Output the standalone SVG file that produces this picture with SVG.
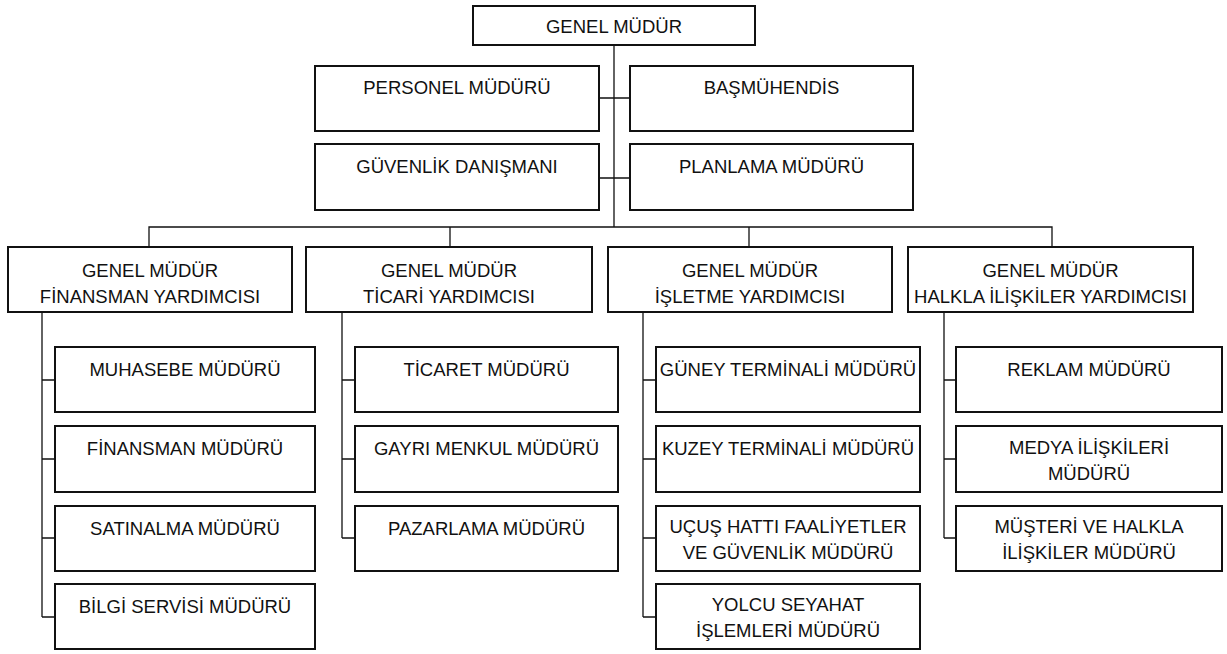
<svg xmlns="http://www.w3.org/2000/svg" width="1227" height="654" viewBox="0 0 1227 654">
<style>
.box{fill:#fff;stroke:#111;stroke-width:2}
.ln{stroke:#111;stroke-width:1.3;fill:none}
text{font-family:"Liberation Sans",Arial,sans-serif;font-size:18.5px;fill:#111;text-anchor:middle}
</style>
<rect width="1227" height="654" fill="#fff"/>
<g id="connectors" class="ln">
<path d="M614 45V227M599 98H630M599 178H630"/>
<path d="M149 247V227H1052V247M450 227V247M749 227V247"/>
<path d="M42 312V617M42 380H55M42 459H55M42 538H55M42 617H55"/>
<path d="M342 312V538M342 380H355M342 459H355M342 538H355"/>
<path d="M643 312V617M643 380H656M643 459H656M643 538H656M643 617H656"/>
<path d="M944 312V538M944 380H956M944 459H956M944 538H956"/>
</g>
<g id="genel-mudur"><rect class="box" x="473" y="6" width="282" height="39"/><text x="614" y="33">GENEL MÜDÜR</text></g>
<g id="personel"><rect class="box" x="315" y="66" width="284" height="65"/><text x="457" y="94">PERSONEL MÜDÜRÜ</text></g>
<g id="basmuhendis"><rect class="box" x="630" y="66" width="283" height="65"/><text x="771.5" y="94">BAŞMÜHENDİS</text></g>
<g id="guvenlik"><rect class="box" x="315" y="144" width="284" height="66"/><text x="457" y="173">GÜVENLİK DANIŞMANI</text></g>
<g id="planlama"><rect class="box" x="630" y="144" width="283" height="66"/><text x="771.5" y="173">PLANLAMA MÜDÜRÜ</text></g>

<g id="finansman-yrd"><rect class="box" x="8" y="247" width="284" height="65"/><text x="150" y="277">GENEL MÜDÜR</text><text x="150" y="303">FİNANSMAN YARDIMCISI</text></g>
<g id="ticari-yrd"><rect class="box" x="306" y="247" width="286" height="65"/><text x="449" y="277">GENEL MÜDÜR</text><text x="449" y="303">TİCARİ YARDIMCISI</text></g>
<g id="isletme-yrd"><rect class="box" x="608" y="247" width="284" height="65"/><text x="750" y="277">GENEL MÜDÜR</text><text x="750" y="303">İŞLETME YARDIMCISI</text></g>
<g id="halkla-yrd"><rect class="box" x="908" y="247" width="285" height="65"/><text x="1050.5" y="277">GENEL MÜDÜR</text><text x="1050.5" y="303">HALKLA İLİŞKİLER YARDIMCISI</text></g>

<g id="muhasebe"><rect class="box" x="55" y="347" width="260" height="65"/><text x="185" y="376">MUHASEBE MÜDÜRÜ</text></g>
<g id="finansman"><rect class="box" x="55" y="426" width="260" height="66"/><text x="185" y="455">FİNANSMAN MÜDÜRÜ</text></g>
<g id="satinalma"><rect class="box" x="55" y="506" width="260" height="65"/><text x="185" y="535">SATINALMA MÜDÜRÜ</text></g>
<g id="bilgi"><rect class="box" x="55" y="584" width="260" height="65"/><text x="185" y="613">BİLGİ SERVİSİ MÜDÜRÜ</text></g>

<g id="ticaret"><rect class="box" x="355" y="347" width="263" height="65"/><text x="486.5" y="376">TİCARET MÜDÜRÜ</text></g>
<g id="gayrimenkul"><rect class="box" x="355" y="426" width="263" height="66"/><text x="486.5" y="455">GAYRI MENKUL MÜDÜRÜ</text></g>
<g id="pazarlama"><rect class="box" x="355" y="506" width="263" height="65"/><text x="486.5" y="535">PAZARLAMA MÜDÜRÜ</text></g>

<g id="guney"><rect class="box" x="656" y="347" width="264" height="65"/><text x="788" y="376">GÜNEY TERMİNALİ MÜDÜRÜ</text></g>
<g id="kuzey"><rect class="box" x="656" y="426" width="264" height="66"/><text x="788" y="455">KUZEY TERMİNALİ MÜDÜRÜ</text></g>
<g id="ucus"><rect class="box" x="656" y="506" width="264" height="65"/><text x="788" y="533">UÇUŞ HATTI FAALİYETLER</text><text x="788" y="559">VE GÜVENLİK MÜDÜRÜ</text></g>
<g id="yolcu"><rect class="box" x="656" y="584" width="264" height="65"/><text x="788" y="611">YOLCU SEYAHAT</text><text x="788" y="637">İŞLEMLERİ MÜDÜRÜ</text></g>

<g id="reklam"><rect class="box" x="956" y="347" width="266" height="65"/><text x="1089" y="376">REKLAM MÜDÜRÜ</text></g>
<g id="medya"><rect class="box" x="956" y="426" width="266" height="66"/><text x="1089" y="454">MEDYA İLİŞKİLERİ</text><text x="1089" y="480">MÜDÜRÜ</text></g>
<g id="musteri"><rect class="box" x="956" y="506" width="266" height="65"/><text x="1089" y="533">MÜŞTERİ VE HALKLA</text><text x="1089" y="559">İLİŞKİLER MÜDÜRÜ</text></g>
</svg>
